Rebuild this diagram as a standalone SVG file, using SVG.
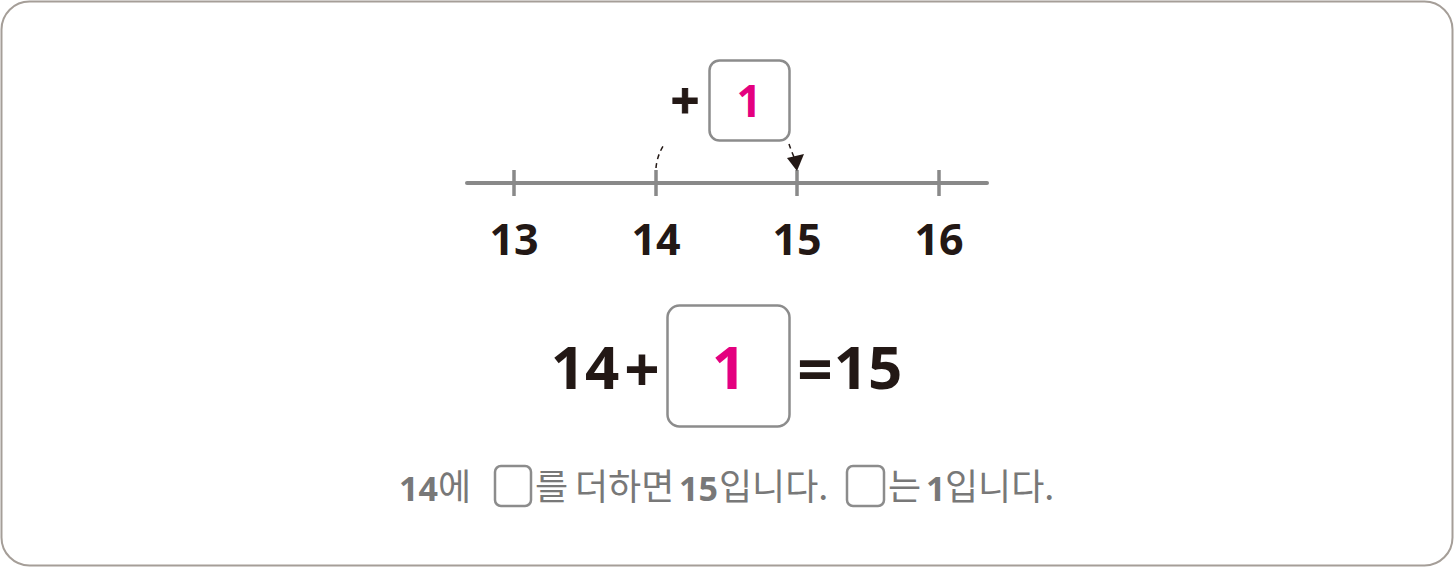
<svg xmlns="http://www.w3.org/2000/svg" width="1454" height="567" viewBox="0 0 1454 567">
<style>
.num{font-family:"Noto Sans","Liberation Sans",sans-serif;font-weight:700;fill:#231815;text-anchor:middle}
.mag{font-family:"Noto Sans","Liberation Sans",sans-serif;font-weight:700;fill:#e4007f;text-anchor:middle}
.kr{font-family:"Noto Sans CJK KR","Noto Sans",sans-serif;fill:#787878;font-size:36px}
.krb{font-family:"Noto Sans","Noto Sans CJK KR",sans-serif;fill:#787878;font-size:34px;font-weight:700}
.box{fill:#fff;stroke:#8c8c8c;stroke-width:2.5}
</style>
<rect x="1.5" y="1.5" width="1451" height="564" rx="28" fill="#fff" stroke="#a59e98" stroke-width="2"/>
<g id="numberline">
<line x1="467" y1="183" x2="987" y2="183" stroke="#898989" stroke-width="4" stroke-linecap="round"/>
<g stroke="#898989" stroke-width="3.5">
<line x1="514" y1="170" x2="514" y2="196"/>
<line x1="656" y1="170" x2="656" y2="196"/>
<line x1="797" y1="170" x2="797" y2="196"/>
<line x1="939" y1="170" x2="939" y2="196"/>
</g>
<text class="num" x="514" y="255" font-size="43">13</text>
<text class="num" x="656" y="255" font-size="43">14</text>
<text class="num" x="797" y="255" font-size="43">15</text>
<text class="num" x="939" y="255" font-size="43">16</text>
</g>
<g id="jump">
<text class="num" x="685" y="119" font-size="50" stroke="#231815" stroke-width="1">+</text>
<rect class="box" x="709.5" y="60.5" width="80" height="80" rx="10"/>
<text class="mag" x="749" y="117" font-size="44">1</text>
</g>
<g id="connectors">
<path d="M656,168 Q657,155 665,143" fill="none" stroke="#231815" stroke-width="1.5" stroke-dasharray="5,4"/>
<path d="M789,144 Q791,150 794,157" fill="none" stroke="#231815" stroke-width="1.5" stroke-dasharray="5,4"/>
<polygon points="787,158 804,154 797,171" fill="#231815"/>
</g>
<g id="equation">
<text class="num" x="585" y="389" font-size="60">14</text>
<text class="num" x="642" y="392" font-size="62">+</text>
<rect class="box" x="667.5" y="305.5" width="122" height="121" rx="12"/>
<text class="mag" x="729" y="389" font-size="60">1</text>
<text class="num" x="815" y="392" font-size="62">=</text>
<text class="num" x="868" y="389" font-size="60">15</text>
</g>
<g id="sentence">
<text class="krb" x="399" y="501">14</text>
<text class="kr" x="438" y="500">에</text>
<rect class="box" x="495" y="466" width="36" height="40" rx="6" stroke-width="2"/>
<text class="kr" x="535" y="500">를</text>
<text class="kr" x="575" y="500">더하면</text>
<text class="krb" x="679" y="501">15</text>
<text class="kr" x="719" y="500">입니다.</text>
<rect class="box" x="847" y="466" width="37" height="40" rx="6" stroke-width="2"/>
<text class="kr" x="888" y="500">는</text>
<text class="krb" x="926" y="501">1</text>
<text class="kr" x="945" y="500">입니다.</text>
</g>
</svg>
